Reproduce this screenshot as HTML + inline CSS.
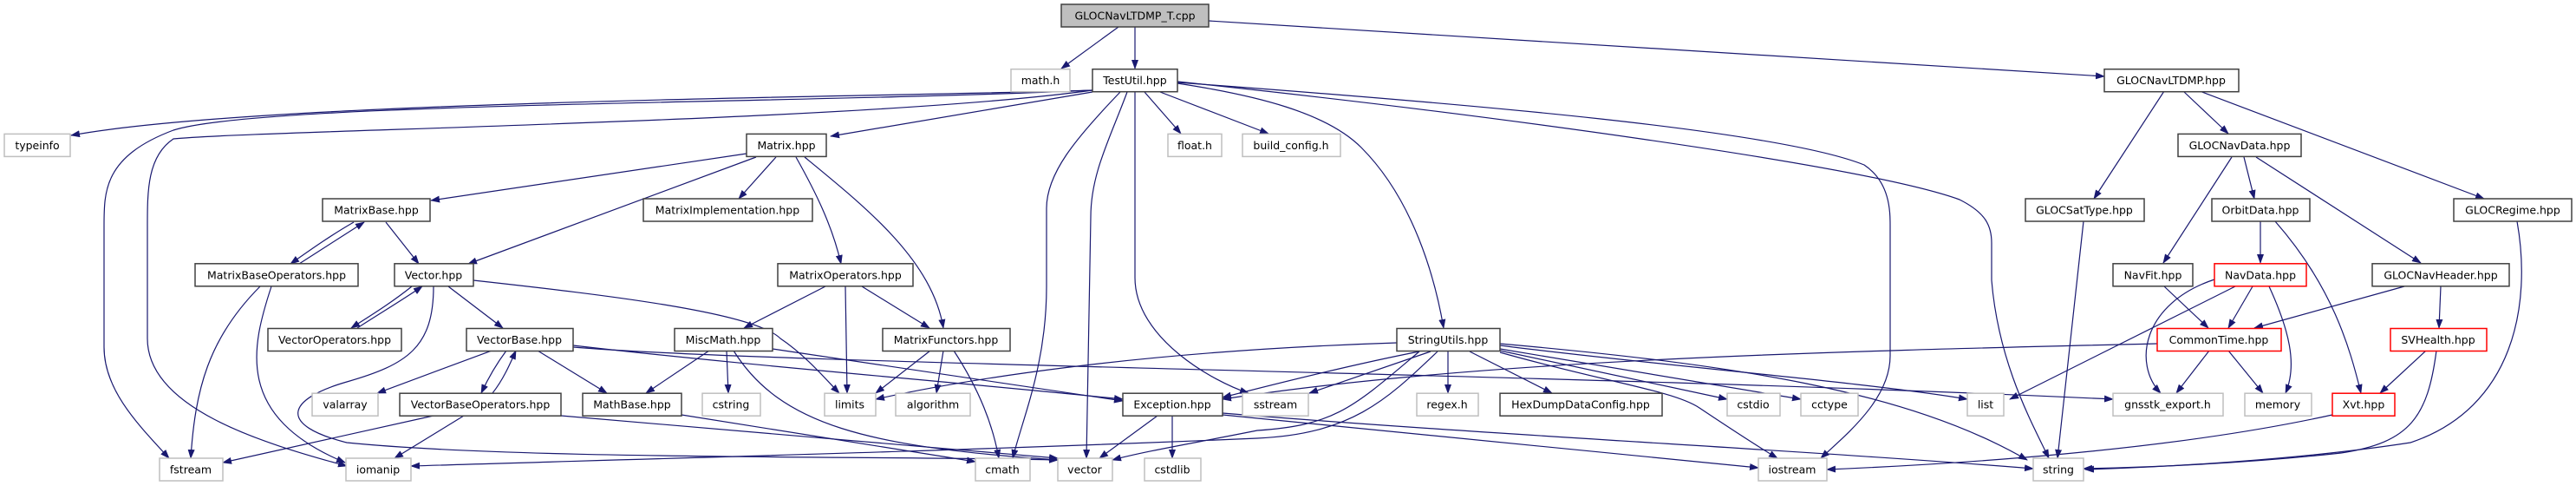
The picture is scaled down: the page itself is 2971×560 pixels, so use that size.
<!DOCTYPE html>
<html><head><meta charset="utf-8"><style>
html,body{margin:0;padding:0;background:#fff}
svg{display:block}
text{font-family:"DejaVu Sans","Liberation Sans",sans-serif;font-size:12.5px;fill:#000;text-anchor:middle;dominant-baseline:central}
.e{fill:none;stroke:#191970;stroke-width:1.2}
.n rect{fill:#fff;stroke:#404040;stroke-width:1.5}
.g rect{fill:#fff;stroke:#bfbfbf;stroke-width:1.5}
.r rect{fill:#fff;stroke:#ff0000;stroke-width:1.5}
</style></head><body>
<svg width="2971" height="560" viewBox="0 0 2971 560" xmlns="http://www.w3.org/2000/svg">
<defs><marker id="a" markerWidth="11" markerHeight="8" refX="10" refY="4" orient="auto" markerUnits="userSpaceOnUse"><path d="M0,0 L11,4 L0,8 z" fill="#191970"/></marker></defs>
<g marker-end="url(#a)">
<!-- root -->
<path class="e" d="M1290,31 L1224,79"/>
<path class="e" d="M1309,31 L1309,79"/>
<path class="e" d="M1394,24 L2427,88"/>
<!-- TestUtil -->
<path class="e" d="M1260,104 C1000,112 300,116 82,156"/>
<path class="e" d="M1260,104 C900,120 300,118 200,150 C120,180 120,220 120,260 L120,400 C120,450 160,490 195,528"/>
<path class="e" d="M1260,104 C1000,140 300,150 200,160 C170,180 170,220 170,260 L170,390 C170,470 300,510 400,537"/>
<path class="e" d="M1260,106 L958,157"/>
<path class="e" d="M1292,106 C1240,160 1207,200 1207,240 L1207,330 C1207,420 1180,480 1168,528"/>
<path class="e" d="M1300,106 C1280,160 1258,200 1258,250 L1253,528"/>
<path class="e" d="M1309,106 L1309,320 C1309,390 1400,440 1440,453"/>
<path class="e" d="M1320,106 L1362,154"/>
<path class="e" d="M1338,106 L1463,154"/>
<path class="e" d="M1358,96 C1450,110 1530,130 1570,170 C1630,230 1655,320 1665,378"/>
<path class="e" d="M1358,95 C1700,120 2050,150 2150,190 C2180,210 2180,244 2180,260 L2180,410 C2180,460 2130,500 2100,528"/>
<path class="e" d="M1358,94 C1700,130 2150,190 2260,230 C2290,245 2297,260 2297,280 L2297,323 C2305,420 2345,490 2363,528"/>
<!-- Matrix -->
<path class="e" d="M861,177 L497,231"/>
<path class="e" d="M872,181 L540,304"/>
<path class="e" d="M895,181 L852,229"/>
<path class="e" d="M918,181 C940,220 960,260 970,304"/>
<path class="e" d="M928,181 C1000,240 1075,300 1088,378"/>
<!-- MatrixBase -->
<path class="e" d="M408,256 C380,272 355,290 335,304"/>
<path class="e" d="M345,304 C370,288 395,272 420,256"/>
<path class="e" d="M445,256 L483,304"/>
<!-- MatrixBaseOperators -->
<path class="e" d="M300,330 C240,390 225,450 220,528"/>
<path class="e" d="M313,330 C290,400 270,480 398,533"/>
<!-- Vector -->
<path class="e" d="M475,330 C450,350 425,365 405,378"/>
<path class="e" d="M412,378 C440,360 465,345 487,330"/>
<path class="e" d="M517,330 L580,378"/>
<path class="e" d="M546,323 C700,340 870,360 900,390 C930,410 955,440 968,453"/>
<path class="e" d="M500,330 C500,400 470,420 400,440 C330,460 320,490 400,510 C600,530 1000,525 1220,530"/>
<!-- VectorBase -->
<path class="e" d="M567,404 L435,453"/>
<path class="e" d="M584,404 C572,420 562,438 555,453"/>
<path class="e" d="M568,453 C580,438 588,420 595,404"/>
<path class="e" d="M620,404 L700,453"/>
<path class="e" d="M661,398 C850,420 1100,440 1295,460"/>
<path class="e" d="M661,400 C900,420 1800,430 2437,460"/>
<!-- VectorBaseOperators -->
<path class="e" d="M500,479 L257,533"/>
<path class="e" d="M535,479 L455,528"/>
<path class="e" d="M647,479 L1220,528"/>
<!-- MathBase -->
<path class="e" d="M786,478 L1125,532"/>
<!-- MiscMath -->
<path class="e" d="M818,404 L745,453"/>
<path class="e" d="M838,404 L840,453"/>
<path class="e" d="M846,404 C900,490 1000,515 1220,530"/>
<path class="e" d="M891,402 L1295,462"/>
<!-- MatrixOperators -->
<path class="e" d="M952,330 L858,378"/>
<path class="e" d="M975,330 L977,453"/>
<path class="e" d="M994,330 L1072,378"/>
<!-- MatrixFunctors -->
<path class="e" d="M1073,404 L1010,453"/>
<path class="e" d="M1088,404 L1080,453"/>
<path class="e" d="M1100,404 C1130,450 1145,490 1152,528"/>
<!-- Exception -->
<path class="e" d="M1335,479 L1268,528"/>
<path class="e" d="M1352,479 L1352,528"/>
<path class="e" d="M1410,478 L2028,539"/>
<path class="e" d="M1410,476 C1700,500 2100,520 2345,540"/>
<!-- StringUtils -->
<path class="e" d="M1611,395 C1300,405 1100,440 1010,460"/>
<path class="e" d="M1637,405 C1560,420 1480,440 1410,458"/>
<path class="e" d="M1650,405 L1510,453"/>
<path class="e" d="M1658,405 C1600,460 1560,500 1450,505 C1100,520 700,530 474,537"/>
<path class="e" d="M1637,405 C1560,470 1540,490 1450,496 C1380,510 1320,520 1283,530"/>
<path class="e" d="M1670,405 L1670,453"/>
<path class="e" d="M1695,405 L1790,453"/>
<path class="e" d="M1730,404 L1992,460"/>
<path class="e" d="M1730,402 L2077,460"/>
<path class="e" d="M1730,406 C1850,440 1930,450 1960,470 C1990,490 2020,510 2050,528"/>
<path class="e" d="M1730,398 C1900,420 2150,440 2269,460"/>
<path class="e" d="M1730,396 C2000,420 2200,450 2338,530"/>
<!-- CommonTime -->
<path class="e" d="M2488,396 C2100,405 1700,415 1410,460"/>
<path class="e" d="M2548,404 L2510,453"/>
<path class="e" d="M2570,404 L2610,453"/>
<!-- NavData -->
<path class="e" d="M2598,330 L2570,378"/>
<path class="e" d="M2578,330 L2318,460"/>
<path class="e" d="M2554,322 C2470,350 2460,420 2492,453"/>
<path class="e" d="M2617,330 C2640,380 2650,420 2636,453"/>
<!-- others -->
<path class="e" d="M2496,330 L2547,378"/>
<path class="e" d="M2773,330 L2600,378"/>
<path class="e" d="M2815,330 L2813,378"/>
<path class="e" d="M2798,404 L2745,453"/>
<path class="e" d="M2810,404 C2800,480 2780,510 2700,522 C2600,533 2500,538 2403,540"/>
<path class="e" d="M2690,478 C2500,520 2250,535 2107,541"/>
<path class="e" d="M2607,255 L2607,303"/>
<path class="e" d="M2624,255 C2690,330 2710,400 2723,453"/>
<path class="e" d="M2574,181 L2495,303"/>
<path class="e" d="M2588,181 L2600,229"/>
<path class="e" d="M2602,181 L2792,303"/>
<path class="e" d="M2496,105 L2415,229"/>
<path class="e" d="M2518,105 L2570,154"/>
<path class="e" d="M2537,105 L2865,229"/>
<path class="e" d="M2403,255 L2373,528"/>
<path class="e" d="M2903,255 C2920,350 2900,470 2780,510 C2650,530 2500,538 2405,541"/>
</g>
<!-- nodes -->
<g class="n"><rect x="1224" y="5" width="170" height="26" style="fill:#bfbfbf"/><text x="1309" y="18">GLOCNavLTDMP_T.cpp</text></g>
<g class="g"><rect x="1166" y="79.7" width="68" height="26"/><text x="1200" y="92.7">math.h</text></g>
<g class="n"><rect x="1260" y="79.7" width="98" height="26"/><text x="1309" y="92.7">TestUtil.hpp</text></g>
<g class="n"><rect x="2427" y="79.7" width="155" height="26"/><text x="2504" y="92.7">GLOCNavLTDMP.hpp</text></g>
<g class="g"><rect x="5" y="154.4" width="76" height="26"/><text x="43" y="167.4">typeinfo</text></g>
<g class="n"><rect x="861" y="154.4" width="92" height="26"/><text x="907" y="167.4">Matrix.hpp</text></g>
<g class="g"><rect x="1347" y="154.4" width="62" height="26"/><text x="1378" y="167.4">float.h</text></g>
<g class="g"><rect x="1433" y="154.4" width="113" height="26"/><text x="1489" y="167.4">build_config.h</text></g>
<g class="n"><rect x="2512" y="154.4" width="142" height="26"/><text x="2583" y="167.4">GLOCNavData.hpp</text></g>
<g class="n"><rect x="372" y="229" width="124" height="26"/><text x="434" y="242">MatrixBase.hpp</text></g>
<g class="n"><rect x="742" y="229" width="195" height="26"/><text x="839" y="242">MatrixImplementation.hpp</text></g>
<g class="n"><rect x="2336" y="229" width="137" height="26"/><text x="2404" y="242">GLOCSatType.hpp</text></g>
<g class="n"><rect x="2551" y="229" width="113" height="26"/><text x="2607" y="242">OrbitData.hpp</text></g>
<g class="n"><rect x="2830" y="229" width="136" height="26"/><text x="2898" y="242">GLOCRegime.hpp</text></g>
<g class="n"><rect x="225" y="303.8" width="188" height="26"/><text x="319" y="316.8">MatrixBaseOperators.hpp</text></g>
<g class="n"><rect x="455" y="303.8" width="91" height="26"/><text x="500" y="316.8">Vector.hpp</text></g>
<g class="n"><rect x="897" y="303.8" width="156" height="26"/><text x="975" y="316.8">MatrixOperators.hpp</text></g>
<g class="n"><rect x="2437" y="303.8" width="92" height="26"/><text x="2483" y="316.8">NavFit.hpp</text></g>
<g class="r"><rect x="2554" y="303.8" width="106" height="26"/><text x="2607" y="316.8">NavData.hpp</text></g>
<g class="n"><rect x="2736" y="303.8" width="158" height="26"/><text x="2815" y="316.8">GLOCNavHeader.hpp</text></g>
<g class="n"><rect x="309" y="378.5" width="154" height="26"/><text x="386" y="391.5">VectorOperators.hpp</text></g>
<g class="n"><rect x="538" y="378.5" width="123" height="26"/><text x="599" y="391.5">VectorBase.hpp</text></g>
<g class="n"><rect x="778" y="378.5" width="113" height="26"/><text x="834" y="391.5">MiscMath.hpp</text></g>
<g class="n"><rect x="1018" y="378.5" width="147" height="26"/><text x="1091" y="391.5">MatrixFunctors.hpp</text></g>
<g class="n"><rect x="1611" y="378.5" width="119" height="26"/><text x="1670" y="391.5">StringUtils.hpp</text></g>
<g class="r"><rect x="2488" y="378.5" width="143" height="26"/><text x="2559" y="391.5">CommonTime.hpp</text></g>
<g class="r"><rect x="2757" y="378.5" width="111" height="26"/><text x="2812" y="391.5">SVHealth.hpp</text></g>
<g class="g"><rect x="360" y="453.2" width="76" height="26"/><text x="398" y="466.2">valarray</text></g>
<g class="n"><rect x="461" y="453.2" width="186" height="26"/><text x="554" y="466.2">VectorBaseOperators.hpp</text></g>
<g class="n"><rect x="672" y="453.2" width="114" height="26"/><text x="729" y="466.2">MathBase.hpp</text></g>
<g class="g"><rect x="810" y="453.2" width="67" height="26"/><text x="843" y="466.2">cstring</text></g>
<g class="g"><rect x="951" y="453.2" width="59" height="26"/><text x="980" y="466.2">limits</text></g>
<g class="g"><rect x="1033" y="453.2" width="86" height="26"/><text x="1076" y="466.2">algorithm</text></g>
<g class="n"><rect x="1295" y="453.2" width="115" height="26"/><text x="1352" y="466.2">Exception.hpp</text></g>
<g class="g"><rect x="1433" y="453.2" width="76" height="26"/><text x="1471" y="466.2">sstream</text></g>
<g class="g"><rect x="1634" y="453.2" width="71" height="26"/><text x="1669" y="466.2">regex.h</text></g>
<g class="n"><rect x="1730" y="453.2" width="187" height="26"/><text x="1823" y="466.2">HexDumpDataConfig.hpp</text></g>
<g class="g"><rect x="1992" y="453.2" width="61" height="26"/><text x="2022" y="466.2">cstdio</text></g>
<g class="g"><rect x="2077" y="453.2" width="66" height="26"/><text x="2110" y="466.2">cctype</text></g>
<g class="g"><rect x="2269" y="453.2" width="42" height="26"/><text x="2290" y="466.2">list</text></g>
<g class="g"><rect x="2437" y="453.2" width="127" height="26"/><text x="2500" y="466.2">gnsstk_export.h</text></g>
<g class="g"><rect x="2589" y="453.2" width="77" height="26"/><text x="2627" y="466.2">memory</text></g>
<g class="r"><rect x="2690" y="453.2" width="72" height="26"/><text x="2726" y="466.2">Xvt.hpp</text></g>
<g class="g"><rect x="184" y="528" width="73" height="26"/><text x="220" y="541">fstream</text></g>
<g class="g"><rect x="399" y="528" width="75" height="26"/><text x="436" y="541">iomanip</text></g>
<g class="g"><rect x="1125" y="528" width="63" height="26"/><text x="1156" y="541">cmath</text></g>
<g class="g"><rect x="1220" y="528" width="63" height="26"/><text x="1251" y="541">vector</text></g>
<g class="g"><rect x="1320" y="528" width="65" height="26"/><text x="1352" y="541">cstdlib</text></g>
<g class="g"><rect x="2028" y="528" width="79" height="26"/><text x="2067" y="541">iostream</text></g>
<g class="g"><rect x="2345" y="528" width="58" height="26"/><text x="2374" y="541">string</text></g>
</svg>
</body></html>
